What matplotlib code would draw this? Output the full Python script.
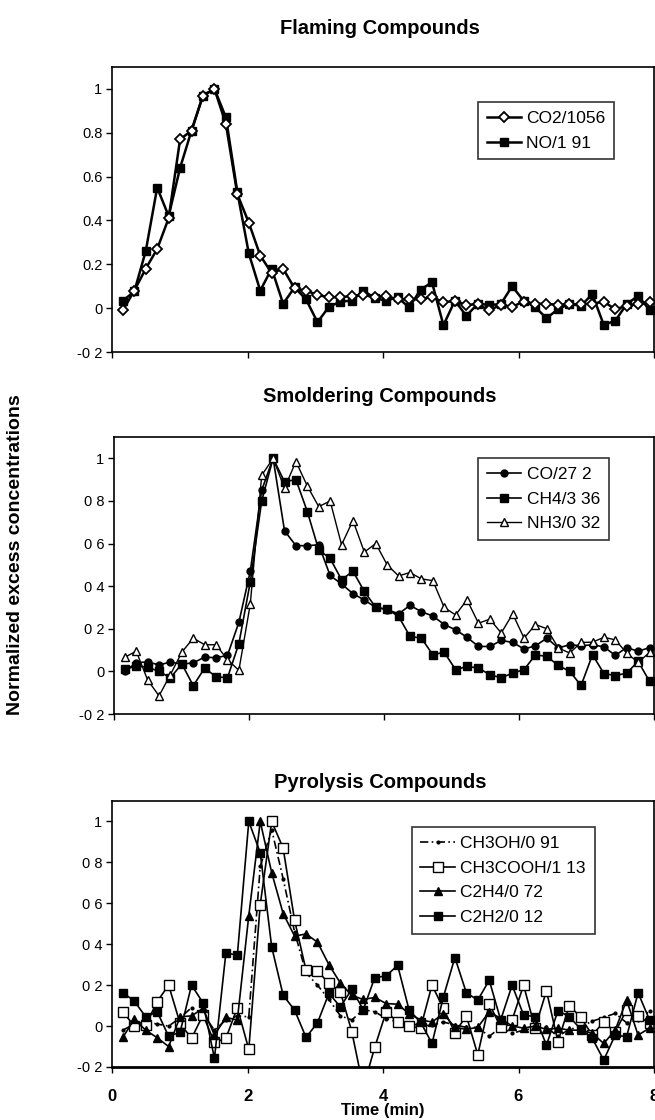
import matplotlib
matplotlib.use("Agg")
import matplotlib.pyplot as plt
import numpy as np

plt.rcParams['font.family'] = ['Liberation Sans', 'DejaVu Sans']

# sampling every ~10 s, 47 points per trace
time_min = np.arange(47) * 0.169 + 0.16

# Flaming compounds
co2 = [-0.01, 0.08, 0.18, 0.27, 0.41, 0.77, 0.81, 0.97, 1.0, 0.84,
       0.52, 0.39, 0.24, 0.16, 0.18, 0.09, 0.08, 0.06, 0.05, 0.05,
       0.055, 0.06, 0.05, 0.056, 0.04, 0.04, 0.04, 0.053, 0.026, 0.034,
       0.015, 0.018, -0.01, 0.015, 0.006, 0.03, 0.02, 0.02, 0.015, 0.018,
       0.018, 0.02, 0.03, -0.005, 0.01, 0.018, 0.026]
no = [0.034, 0.076, 0.26, 0.55, 0.42, 0.64, 0.81, 0.97, 1.0, 0.87,
      0.53, 0.25, 0.08, 0.18, 0.02, 0.095, 0.04, -0.064, 0.006, 0.03,
      0.034, 0.08, 0.046, 0.034, 0.05, 0.003, 0.084, 0.118, -0.078, 0.034,
      -0.035, 0.02, 0.015, 0.018, 0.1, 0.034, 0.006, -0.046, -0.005, 0.02,
      0.01, 0.064, -0.076, -0.058, 0.018, 0.056, -0.008]

# Smoldering compounds
co = [0.0, 0.04, 0.045, 0.03, 0.044, 0.034, 0.04, 0.067, 0.064, 0.075,
      0.23, 0.47, 0.85, 1.0, 0.66, 0.59, 0.59, 0.594, 0.45, 0.41,
      0.365, 0.335, 0.30, 0.29, 0.27, 0.31, 0.28, 0.26, 0.22, 0.195,
      0.16, 0.117, 0.117, 0.145, 0.136, 0.105, 0.12, 0.156, 0.11, 0.125,
      0.12, 0.125, 0.115, 0.075, 0.112, 0.094, 0.112]
ch4 = [0.01, 0.025, 0.02, 0.0, -0.03, 0.035, -0.067, 0.015, -0.025, -0.03,
       0.13, 0.42, 0.8, 1.0, 0.89, 0.9, 0.75, 0.57, 0.53, 0.43,
       0.47, 0.375, 0.30, 0.292, 0.258, 0.164, 0.156, 0.078, 0.09, 0.008,
       0.023, 0.016, -0.016, -0.03, -0.008, 0.008, 0.078, 0.07, 0.028, 0.0,
       -0.066, 0.078, -0.01, -0.02, -0.008, 0.047, -0.047]
nh3 = [0.066, 0.095, -0.04, -0.115, -0.015, 0.09, 0.156, 0.125, 0.125, 0.055,
       0.005, 0.316, 0.92, 1.0, 0.86, 0.985, 0.87, 0.773, 0.80, 0.594,
       0.708, 0.56, 0.60, 0.50, 0.448, 0.464, 0.434, 0.426, 0.30, 0.265,
       0.336, 0.226, 0.245, 0.18, 0.27, 0.156, 0.22, 0.20, 0.11, 0.086,
       0.136, 0.137, 0.16, 0.148, 0.086, 0.042, 0.089]

# Pyrolysis compounds
ch3oh = [-0.02, 0.01, 0.02, 0.01, 0.0, 0.04, 0.09, 0.06, -0.02, 0.03,
         0.05, 0.045, 0.78, 0.96, 0.72, 0.46, 0.26, 0.2, 0.13, 0.05,
         0.03, 0.08, 0.07, 0.037, 0.02, 0.016, 0.0, 0.005, 0.02, 0.005,
         -0.006, -0.006, -0.05, -0.006, -0.035, -0.02, -0.01, -0.006, -0.05, -0.016,
         -0.003, 0.024, 0.042, 0.062, 0.016, 0.03, 0.073]
ch3cooh = [0.07, 0.0, 0.005, 0.12, 0.2, 0.013, -0.06, 0.054, -0.08, -0.06,
           0.09, -0.114, 0.594, 1.0, 0.87, 0.517, 0.273, 0.268, 0.21, 0.167,
           -0.028, -0.3, -0.104, 0.07, 0.02, 0.0, -0.01, 0.2, 0.086, -0.032,
           0.05, -0.14, 0.11, -0.006, 0.03, 0.2, -0.01, 0.172, -0.076, 0.1,
           0.042, -0.044, 0.02, -0.03, 0.08, 0.05, 0.013]
c2h4 = [-0.055, 0.033, -0.02, -0.057, -0.1, 0.045, 0.05, 0.086, -0.044, 0.042,
        0.03, 0.54, 1.0, 0.75, 0.55, 0.44, 0.45, 0.41, 0.3, 0.21,
        0.15, 0.13, 0.14, 0.11, 0.107, 0.06, 0.03, 0.02, 0.06, -0.006,
        -0.016, -0.006, 0.07, 0.037, 0.0, -0.01, 0.0, -0.016, -0.01, -0.02,
        -0.02, -0.035, -0.085, -0.02, 0.127, -0.044, -0.01]
c2h2 = [0.164, 0.122, 0.045, 0.07, -0.05, -0.03, 0.2, 0.114, -0.158, 0.358,
        0.346, 1.0, 0.847, 0.387, 0.151, 0.078, -0.055, 0.016, 0.16, 0.094,
        0.18, 0.08, 0.237, 0.245, 0.297, 0.078, 0.02, -0.085, 0.143, 0.335,
        0.163, 0.127, 0.224, 0.03, 0.2, 0.054, 0.046, -0.093, 0.075, 0.046,
        -0.016, -0.06, -0.166, -0.044, -0.052, 0.163, 0.03]

y_ticks = [-0.2, 0, 0.2, 0.4, 0.6, 0.8, 1]
y_labels_top = ['-0 2', '0', '0.2', '0.4', '0.6', '0.8', '1']
y_labels = ['-0 2', '0', '0 2', '0 4', '0 6', '0 8', '1']
x_ticks = [0, 2, 4, 6, 8]

W, H = 655, 1120
fig = plt.figure(figsize=(W / 100, H / 100), dpi=100)


def make_axes(left, top, bottom):
    ax = fig.add_axes([left / W, 1 - bottom / H, (654 - left) / W, (bottom - top) / H])
    ax.set_xlim(0, 8)
    ax.set_ylim(-0.2, 1.1)
    ax.set_xticks(x_ticks)
    ax.set_xticklabels([])
    ax.set_yticks(y_ticks)
    ax.tick_params(direction='out', length=4, width=1, labelsize=10.5, pad=3)
    for s in ax.spines.values():
        s.set_linewidth(1.2)
    return ax


def legend(ax, anchor):
    leg = ax.legend(loc='upper left', bbox_to_anchor=anchor, fontsize=12.5,
                    frameon=True, fancybox=False, handlelength=2.0,
                    handletextpad=0.3, borderpad=0.5, labelspacing=0.55,
                    borderaxespad=0)
    leg.get_frame().set_edgecolor('black')
    leg.get_frame().set_linewidth(1.2)


# ---- flaming ----
ax1 = make_axes(112, 67, 352)
ax1.set_yticklabels(y_labels_top)
ax1.plot(time_min, co2, color='k', lw=1.8, marker='D', ms=5, mfc='white',
         mec='k', mew=1.3, label='CO2/1056', zorder=3)
ax1.plot(time_min, no, color='k', lw=1.8, marker='s', ms=6, mfc='k',
         mec='k', label='NO/1 91')
legend(ax1, (0.675, 0.877))

# ---- smoldering ----
ax2 = make_axes(114, 437, 714)
ax2.set_yticklabels(y_labels)
ax2.plot(time_min, co, color='k', lw=1.2, marker='o', ms=5, mfc='k',
         mec='k', label='CO/27 2')
ax2.plot(time_min, ch4, color='k', lw=1.2, marker='s', ms=5.5, mfc='k',
         mec='k', label='CH4/3 36')
ax2.plot(time_min, nh3, color='k', lw=1.0, marker='^', ms=6, mfc='white',
         mec='k', mew=1.0, label='NH3/0 32')
legend(ax2, (0.674, 0.924))

# ---- pyrolysis ----
ax3 = make_axes(112, 801, 1067)
ax3.set_yticklabels(y_labels)
ax3.set_xticklabels([str(v) for v in x_ticks], fontweight='bold', fontsize=12)
ax3.tick_params(axis='x', pad=12)
ax3.spines['bottom'].set_linewidth(2)
ax3.plot(time_min, ch3oh, color='k', lw=1.2, ls=(0, (5, 2, 1, 2)),
         marker='.', ms=4, label='CH3OH/0 91')
ax3.plot(time_min, ch3cooh, color='k', lw=1.2, marker='s', ms=6.5,
         mfc='white', mec='k', mew=1.0, label='CH3COOH/1 13')
ax3.plot(time_min, c2h4, color='k', lw=1.2, marker='^', ms=6, mfc='k',
         mec='k', label='C2H4/0 72')
ax3.plot(time_min, c2h2, color='k', lw=1.2, marker='s', ms=6, mfc='k',
         mec='k', label='C2H2/0 12')
ax3.set_xlabel('Time (min)', fontsize=12, fontweight='bold', labelpad=-1)
legend(ax3, (0.553, 0.902))

# titles and shared label
fig.text(380 / W, 1 - 28 / H, 'Flaming Compounds', ha='center', va='center',
         fontsize=14.5, fontweight='bold')
fig.text(380 / W, 1 - 397 / H, 'Smoldering Compounds', ha='center', va='center',
         fontsize=14.5, fontweight='bold')
fig.text(380 / W, 1 - 783 / H, 'Pyrolysis Compounds', ha='center', va='center',
         fontsize=14.5, fontweight='bold')
fig.text(16 / W, 1 - 555 / H, 'Normalized excess concentrations', rotation=90,
         ha='center', va='center', fontsize=14, fontweight='bold')

fig.savefig('out.png', dpi=100)
